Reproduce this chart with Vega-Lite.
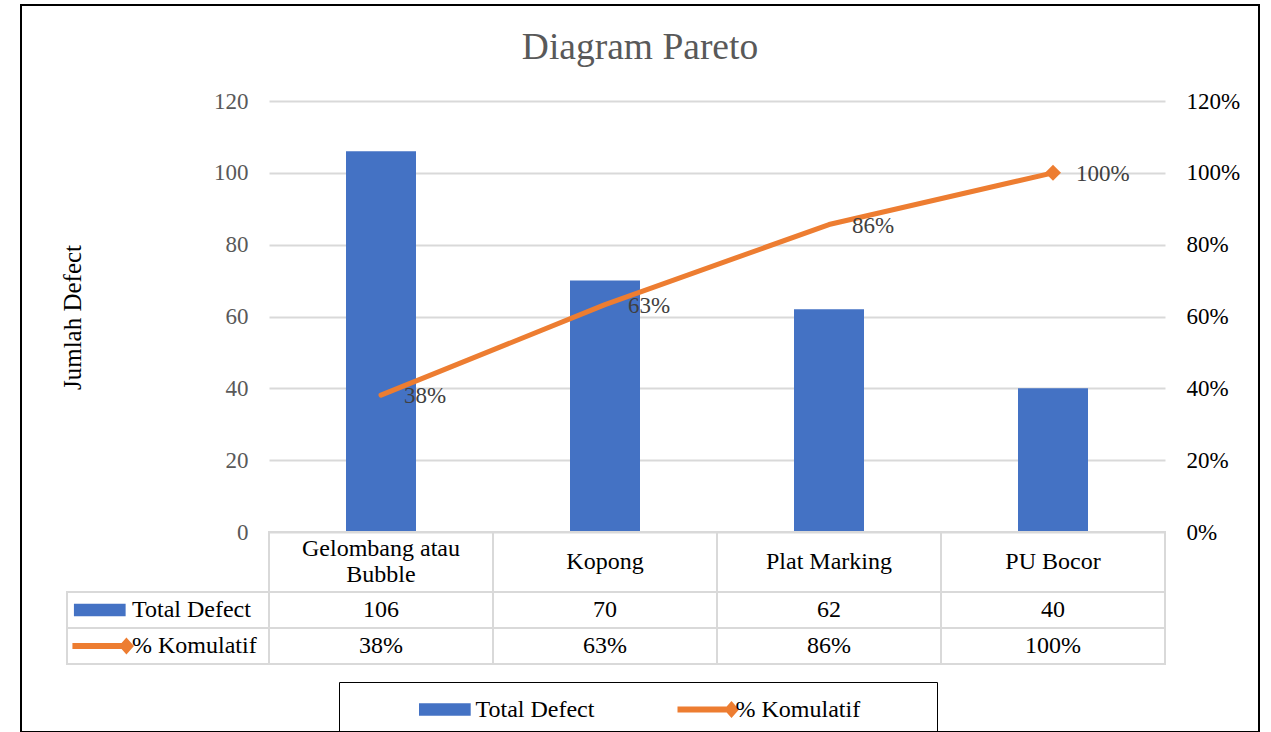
{
  "$schema": "https://vega.github.io/schema/vega-lite/v6.json",
  "autosize": {"type": "none"},
  "padding": {"left": 21, "top": 5, "right": 12, "bottom": 0},
  "width": 1238,
  "height": 727,
  "background": "white",
  "config": {
    "view": {"stroke": "#000000", "strokeWidth": 2},
    "font": "Liberation Serif",
    "legend": {
      "orient": "none", "legendX": 318, "legendY": 677, "direction": "horizontal",
      "strokeColor": "#000000", "padding": 15.5,
      "symbolSize": 400, "symbolStrokeWidth": 0, "symbolOpacity": 1,
      "labelFont": "Liberation Serif", "labelFontSize": 24, "labelColor": "#000000",
      "labelOffset": 18.5, "labelLimit": 400, "columnPadding": 20, "symbolOffset": 78.5
    }
  },
  "title": {
    "text": "Diagram Pareto", "fontSize": 37.5, "font": "Liberation Serif", "fontWeight": "normal",
    "color": "#595959", "anchor": "middle", "frame": "group", "offset": -54, "dy": 37, "baseline": "alphabetic"
  },
  "datasets": {
    "defects": [
      {"cat": "Gelombang atau Bubble", "total": 106, "pct": 0.381},
      {"cat": "Kopong", "total": 70, "pct": 0.633},
      {"cat": "Plat Marking", "total": 62, "pct": 0.856},
      {"cat": "PU Bocor", "total": 40, "pct": 1.0}
    ],
    "rows": [{"key": "Total Defect"}, {"key": "% Komulatif"}]
  },
  "layer": [
    {
      "data": {"name": "defects"},
      "mark": {"type": "bar", "color": "#4472C4", "width": {"band": 0.3125}},
      "encoding": {
        "x": {"field": "cat", "type": "nominal", "sort": null, "axis": null,
              "scale": {"type": "band", "domain": ["Gelombang atau Bubble", "Kopong", "Plat Marking", "PU Bocor"], "range": [248, 1144], "paddingInner": 0, "paddingOuter": 0}},
        "y": {"field": "total", "type": "quantitative",
              "scale": {"domain": [0, 120], "range": [527, 96], "nice": false, "zero": true},
              "axis": {"orient": "left", "offset": -248, "values": [0, 20, 40, 60, 80, 100, 120],
                       "domain": false, "ticks": false, "grid": true, "gridColor": "#d9d9d9", "gridWidth": 2,
                       "labelPadding": 21, "labelFontSize": 23, "labelColor": "#595959", "labelFont": "Liberation Serif",
                       "title": "Jumlah Defect", "titleFont": "Liberation Serif", "titleFontSize": 25, "titleFontWeight": "normal",
                       "titleColor": "#000000", "titleX": -196.5, "titleY": 312, "titleAngle": -90,
                       "titleAlign": "center", "titleBaseline": "middle"}}
      }
    },
    {
      "data": {"name": "defects"},
      "mark": {"type": "line", "color": "#ED7D31", "strokeWidth": 5, "strokeCap": "round", "strokeJoin": "round"},
      "encoding": {
        "x": {"field": "cat", "type": "nominal", "sort": null, "axis": null,
              "scale": {"type": "band", "domain": ["Gelombang atau Bubble", "Kopong", "Plat Marking", "PU Bocor"], "range": [248, 1144], "paddingInner": 0, "paddingOuter": 0}},
        "y": {"field": "pct", "type": "quantitative",
              "scale": {"domain": [0, 1.2], "range": [527, 96], "nice": false, "zero": true},
              "axis": {"orient": "right", "offset": -94, "values": [0, 0.2, 0.4, 0.6, 0.8, 1, 1.2], "format": ".0%",
                       "domain": false, "ticks": false, "grid": false,
                       "labelPadding": 21, "labelFontSize": 23, "labelColor": "#000000", "labelFont": "Liberation Serif",
                       "title": null}}
      }
    },
    {
      "data": {"name": "defects"},
      "transform": [{"filter": "datum.cat == 'PU Bocor'"}],
      "mark": {"type": "point", "shape": "diamond", "filled": true, "size": 256, "color": "#ED7D31", "opacity": 1},
      "encoding": {
        "x": {"field": "cat", "type": "nominal", "sort": null, "axis": null,
              "scale": {"type": "band", "domain": ["Gelombang atau Bubble", "Kopong", "Plat Marking", "PU Bocor"], "range": [248, 1144], "paddingInner": 0, "paddingOuter": 0}},
        "y": {"field": "pct", "type": "quantitative", "axis": null,
              "scale": {"domain": [0, 1.2], "range": [527, 96], "nice": false, "zero": true}}
      }
    },
    {
      "data": {"name": "defects"},
      "mark": {"type": "text", "align": "left", "baseline": "middle", "dx": 23, "dy": 1, "fontSize": 23, "color": "#404040", "font": "Liberation Serif"},
      "encoding": {
        "x": {"field": "cat", "type": "nominal", "sort": null, "axis": null,
              "scale": {"type": "band", "domain": ["Gelombang atau Bubble", "Kopong", "Plat Marking", "PU Bocor"], "range": [248, 1144], "paddingInner": 0, "paddingOuter": 0}},
        "y": {"field": "pct", "type": "quantitative", "axis": null,
              "scale": {"domain": [0, 1.2], "range": [527, 96], "nice": false, "zero": true}},
        "text": {"field": "pct", "type": "quantitative", "format": ".0%"}
      }
    },
    {
      "data": {"name": "defects"},
      "mark": {"type": "rect", "fill": "transparent", "stroke": "#d9d9d9", "strokeWidth": 2},
      "encoding": {
        "x": {"field": "cat", "type": "nominal", "sort": null, "axis": null,
              "scale": {"type": "band", "domain": ["Gelombang atau Bubble", "Kopong", "Plat Marking", "PU Bocor"], "range": [248, 1144], "paddingInner": 0, "paddingOuter": 0}},
        "y": {"datum": "c", "type": "nominal", "axis": null,
              "scale": {"type": "band", "domain": ["c"], "range": [527, 587], "paddingInner": 0, "paddingOuter": 0}}
      }
    },
    {
      "data": {"name": "defects"},
      "transform": [{"filter": "indexof(datum.cat, 'atau') < 0"}],
      "mark": {"type": "text", "align": "center", "baseline": "middle", "fontSize": 24, "color": "#000000", "font": "Liberation Serif"},
      "encoding": {
        "x": {"field": "cat", "type": "nominal", "sort": null, "axis": null,
              "scale": {"type": "band", "domain": ["Gelombang atau Bubble", "Kopong", "Plat Marking", "PU Bocor"], "range": [248, 1144], "paddingInner": 0, "paddingOuter": 0}},
        "y": {"datum": "c", "type": "nominal", "axis": null,
              "scale": {"type": "band", "domain": ["c"], "range": [527, 587], "paddingInner": 0, "paddingOuter": 0}},
        "text": {"field": "cat", "type": "nominal"}
      }
    },
    {
      "data": {"name": "defects"},
      "transform": [
        {"filter": "indexof(datum.cat, 'atau') >= 0"},
        {"calculate": "replace(datum.cat, 'atau ', 'atau\\n')", "as": "lbl"}
      ],
      "mark": {"type": "text", "align": "center", "baseline": "middle", "dy": -13, "fontSize": 24, "color": "#000000", "font": "Liberation Serif", "lineBreak": "\n", "lineHeight": 26},
      "encoding": {
        "x": {"field": "cat", "type": "nominal", "sort": null, "axis": null,
              "scale": {"type": "band", "domain": ["Gelombang atau Bubble", "Kopong", "Plat Marking", "PU Bocor"], "range": [248, 1144], "paddingInner": 0, "paddingOuter": 0}},
        "y": {"datum": "c", "type": "nominal", "axis": null,
              "scale": {"type": "band", "domain": ["c"], "range": [527, 587], "paddingInner": 0, "paddingOuter": 0}},
        "text": {"field": "lbl", "type": "nominal"}
      }
    },
    {
      "data": {"name": "defects"},
      "transform": [
        {"fold": ["total", "pct"], "as": ["key", "value"]},
        {"calculate": "datum.key == 'total' ? 'Total Defect' : '% Komulatif'", "as": "row"}
      ],
      "mark": {"type": "rect", "fill": "transparent", "stroke": "#d9d9d9", "strokeWidth": 2},
      "encoding": {
        "x": {"field": "cat", "type": "nominal", "sort": null, "axis": null,
              "scale": {"type": "band", "domain": ["Gelombang atau Bubble", "Kopong", "Plat Marking", "PU Bocor"], "range": [248, 1144], "paddingInner": 0, "paddingOuter": 0}},
        "y": {"field": "row", "type": "nominal", "axis": null,
              "scale": {"type": "band", "domain": ["Total Defect", "% Komulatif"], "range": [587, 659], "paddingInner": 0, "paddingOuter": 0}}
      }
    },
    {
      "data": {"name": "defects"},
      "transform": [
        {"fold": ["total", "pct"], "as": ["key", "value"]},
        {"calculate": "datum.key == 'total' ? 'Total Defect' : '% Komulatif'", "as": "row"},
        {"calculate": "datum.key == 'total' ? format(datum.value, 'd') : format(datum.value, '.0%')", "as": "lbl"}
      ],
      "mark": {"type": "text", "align": "center", "baseline": "middle", "fontSize": 24, "color": "#000000", "font": "Liberation Serif"},
      "encoding": {
        "x": {"field": "cat", "type": "nominal", "sort": null, "axis": null,
              "scale": {"type": "band", "domain": ["Gelombang atau Bubble", "Kopong", "Plat Marking", "PU Bocor"], "range": [248, 1144], "paddingInner": 0, "paddingOuter": 0}},
        "y": {"field": "row", "type": "nominal", "axis": null,
              "scale": {"type": "band", "domain": ["Total Defect", "% Komulatif"], "range": [587, 659], "paddingInner": 0, "paddingOuter": 0}},
        "text": {"field": "lbl", "type": "nominal"}
      }
    },
    {
      "data": {"name": "rows"},
      "mark": {"type": "rect", "fill": "transparent", "stroke": "#d9d9d9", "strokeWidth": 2},
      "encoding": {
        "x": {"datum": "h", "type": "nominal", "axis": null,
              "scale": {"type": "band", "domain": ["h"], "range": [46, 248], "paddingInner": 0, "paddingOuter": 0}},
        "y": {"field": "key", "type": "nominal", "axis": null,
              "scale": {"type": "band", "domain": ["Total Defect", "% Komulatif"], "range": [587, 659], "paddingInner": 0, "paddingOuter": 0}}
      }
    },
    {
      "data": {"name": "rows"},
      "mark": {"type": "text", "align": "left", "baseline": "middle", "dx": -36, "fontSize": 24, "color": "#000000", "font": "Liberation Serif"},
      "encoding": {
        "x": {"datum": "h", "type": "nominal", "axis": null,
              "scale": {"type": "band", "domain": ["h"], "range": [46, 248], "paddingInner": 0, "paddingOuter": 0}},
        "y": {"field": "key", "type": "nominal", "axis": null,
              "scale": {"type": "band", "domain": ["Total Defect", "% Komulatif"], "range": [587, 659], "paddingInner": 0, "paddingOuter": 0}},
        "text": {"field": "key", "type": "nominal"}
      }
    },
    {
      "data": {"name": "rows"},
      "mark": {"type": "point", "filled": true, "opacity": 1, "size": 400, "strokeWidth": 0},
      "encoding": {
        "x": {"datum": "h", "type": "nominal", "axis": null, "bandPosition": 0.163,
              "scale": {"type": "band", "domain": ["h"], "range": [46, 248], "paddingInner": 0, "paddingOuter": 0}},
        "y": {"field": "key", "type": "nominal", "axis": null,
              "scale": {"type": "band", "domain": ["Total Defect", "% Komulatif"], "range": [587, 659], "paddingInner": 0, "paddingOuter": 0}},
        "color": {"field": "key", "type": "nominal", "legend": {"title": null},
                  "scale": {"domain": ["Total Defect", "% Komulatif"], "range": ["#4472C4", "#ED7D31"]}},
        "shape": {"field": "key", "type": "nominal", "legend": {"title": null},
                  "scale": {"domain": ["Total Defect", "% Komulatif"],
                            "range": ["M-2.6,-0.62L2.57,-0.62L2.57,0.62L-2.6,0.62Z",
                                      "M-2.75,-0.3L2.165,-0.3L2.65,-0.85L3.4,0L2.65,0.85L2.165,0.3L-2.75,0.3ZM21.6,0"]}}
      }
    }
  ],
  "resolve": {"scale": {"x": "independent", "y": "independent"}}
}
